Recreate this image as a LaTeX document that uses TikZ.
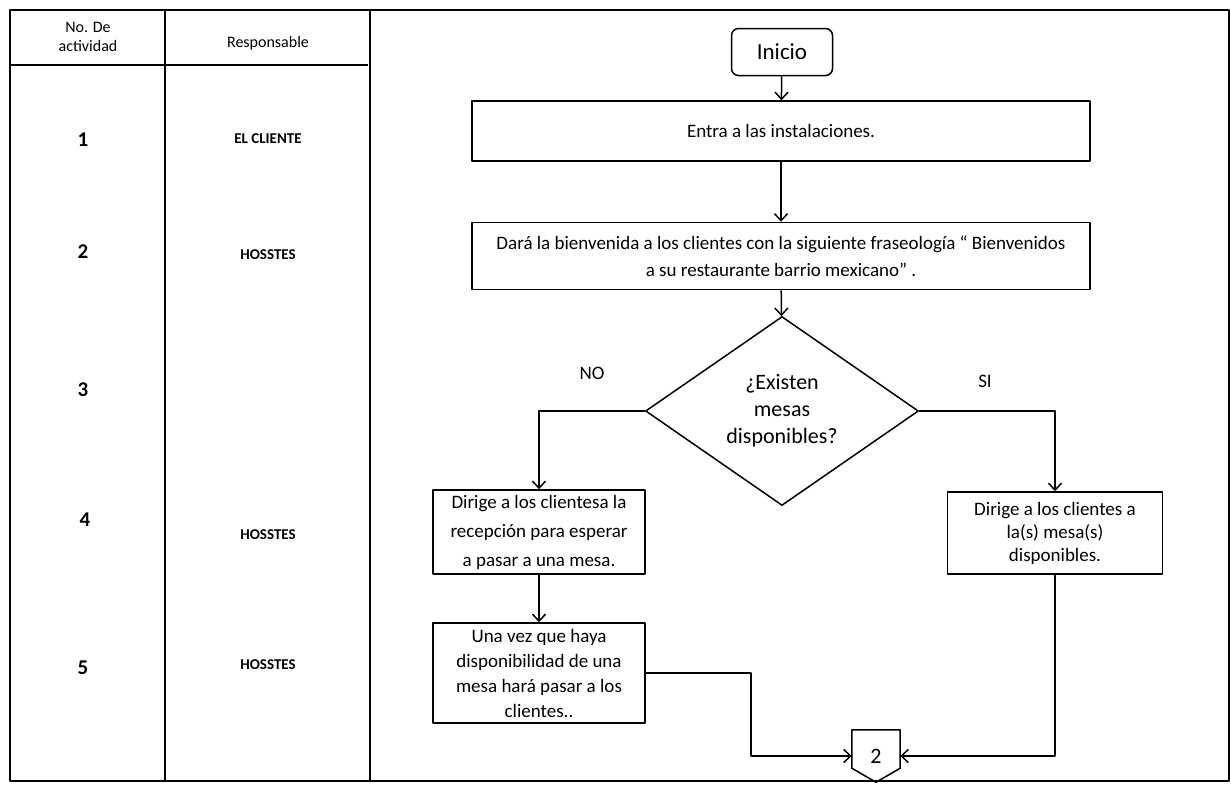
\documentclass[tikz,border=0pt]{standalone}
\usepackage{fontspec}
\setmainfont{Carlito}
\usetikzlibrary{arrows.meta,shapes.geometric}

\begin{document}
\begin{tikzpicture}[x=1pt,y=-1pt,join=round,
  caja/.style={draw,line width=1.5pt,align=center,inner sep=2pt,font=\fontsize{19}{27}\selectfont},
  flecha/.style={line width=1.5pt,-{Straight Barb[length=7pt,width=13pt]}},
  marco/.style={line width=2.8pt},
  cabeza/.style={font=\fontsize{16}{19}\selectfont,align=center},
  numero/.style={font=\bfseries\fontsize{21}{24}\selectfont},
  resp/.style={font=\bfseries\fontsize{15}{18}\selectfont}]
  \useasboundingbox (0,0) rectangle (1231,785);
  % tabla
  \draw[marco] (10,10) rectangle (1229,781);
  \draw[marco] (165,10) -- (165,781) (370,10) -- (370,781);
  \draw[marco] (10,65) -- (368,65);
  \node[cabeza] (hnum) at (88,37) {No. De\\actividad};
  \node[cabeza] (hresp) at (268,43) {Responsable};
  \node[numero] (n1) at (83,140) {1};
  \node[numero] (n2) at (83,252) {2};
  \node[numero] (n3) at (83,390) {3};
  \node[numero] (n4) at (85,520) {4};
  \node[numero] (n5) at (83,668) {5};
  \node[resp] (r1) at (268,139) {EL CLIENTE};
  \node[resp] (r2) at (268,255) {HOSSTES};
  \node[resp] (r4) at (268,535) {HOSSTES};
  \node[resp] (r5) at (268,665) {HOSSTES};
  % diagrama
  \node[caja,rounded corners=7pt,minimum width=101,minimum height=47,font=\fontsize{23}{26}\selectfont] (inicio) at (782,52) {Inicio};
  \node[caja,minimum width=618,minimum height=60] (entra) at (781,131) {Entra a las instalaciones.};
  \node[caja,minimum width=618,minimum height=67] (bienv) at (781,256) {Dará la bienvenida a los clientes con la siguiente fraseología “ Bienvenidos\\a su restaurante barrio mexicano” .};
  \node[diamond,draw,line width=1.5pt,inner sep=0pt,minimum width=273,minimum height=189,align=center,font=\fontsize{22}{27}\selectfont] (mesas) at (782,411) {¿Existen\\mesas\\disponibles?};
  \node[caja,minimum width=212,minimum height=84,font=\fontsize{19}{29}\selectfont] (espera) at (539,532) {Dirige a los clientesa la\\recepción para esperar\\a pasar a una mesa.};
  \node[caja,minimum width=212,minimum height=100,font=\fontsize{19}{25}\selectfont] (pasar) at (539,673) {Una vez que haya\\disponibilidad de una\\mesa hará pasar a los\\clientes..};
  \node[caja,minimum width=215,minimum height=82,font=\fontsize{19}{23}\selectfont] (asigna) at (1055,533) {Dirige a los clientes a\\la(s) mesa(s)\\disponibles.};
  \node[minimum width=48,minimum height=52,inner sep=0pt,font=\fontsize{22}{24}\selectfont] (conec) at (876,756) {2};
  \draw[line width=1.5pt] (conec.north west) -- (conec.north east) -- ([yshift=14pt]conec.south east)
    -- (conec.south) -- ([yshift=14pt]conec.south west) -- cycle;
  \node[font=\fontsize{19}{22}\selectfont] (no) at (592,373) {NO};
  \node[font=\fontsize{19}{22}\selectfont] (si) at (985,381) {SI};
  \draw[flecha] (inicio) -- (entra);
  \draw[flecha] (entra) -- (bienv);
  \draw[flecha] (bienv) -- (mesas);
  \draw[flecha] (mesas.west) -| (espera.north);
  \draw[flecha] (mesas.east) -| (asigna.north);
  \draw[flecha] (espera) -- (pasar);
  \draw[flecha] (pasar.east) -- ++(105,0) |- (conec.west);
  \draw[flecha] (asigna.south) |- (conec.east);
\end{tikzpicture}
\end{document}
